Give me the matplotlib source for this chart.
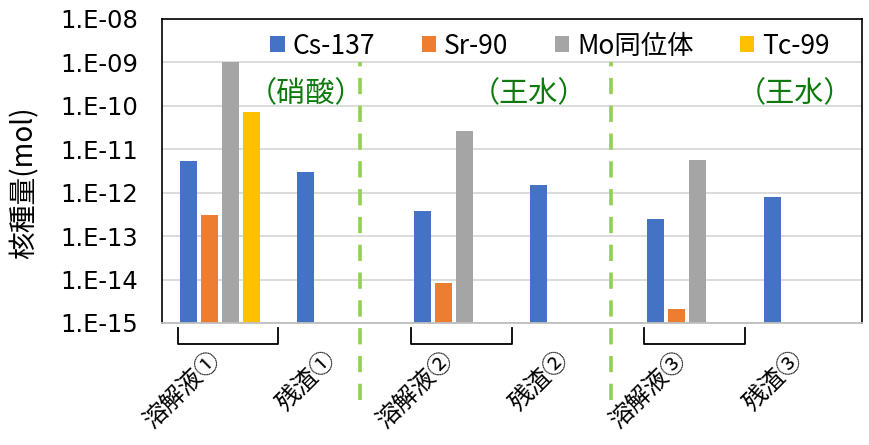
import numpy as np
import matplotlib
matplotlib.use("Agg")
import matplotlib.pyplot as plt
from matplotlib.patches import Patch
from matplotlib.ticker import FixedLocator, FuncFormatter, NullLocator
import matplotlib.transforms as mtransforms

plt.rcParams['font.family'] = ['Noto Sans CJK JP', 'DejaVu Sans']

categories = ["溶解液①", "残渣①", "溶解液②", "残渣②", "溶解液③", "残渣③"]
series_names = ["Cs-137", "Sr-90", "Mo同位体", "Tc-99"]
cs137 = [5.3e-12, 2.9e-12, 3.8e-13, 1.45e-12, 2.5e-13, 7.8e-13]
sr90 = [3.1e-13, np.nan, 8.4e-15, np.nan, 2.1e-15, np.nan]
mo_iso = [1.0e-9, np.nan, 2.6e-11, np.nan, 5.7e-12, np.nan]
tc99 = [7.2e-11, np.nan, np.nan, np.nan, np.nan, np.nan]
acid_labels = ["（硝酸）", "（王水）", "（王水）"]

colors = ["#4472C4", "#ED7D31", "#A5A5A5", "#FFC000"]
green_text = "#0E7A0E"
green_line = "#92D050"

fig = plt.figure(figsize=(8.7, 4.45), dpi=100)
ax = fig.add_axes([162 / 870, 1 - 323 / 445, 700 / 870, 304.5 / 445])
ax.set_yscale("log")

x = np.arange(len(categories))
step = 0.18
width = 0.146
all_series = [cs137, sr90, mo_iso, tc99]
for i, (vals, c) in enumerate(zip(all_series, colors)):
    ax.bar(x + (i - 1.5) * step, vals, width=width, color=c, zorder=3)

ax.set_xlim(-0.5, len(categories) - 0.5)
ax.set_ylim(1e-15, 1e-8)

# y axis: decades labelled in 1.E-xx form
decades = [10.0 ** e for e in range(-15, -7)]
ax.yaxis.set_major_locator(FixedLocator(decades))
ax.yaxis.set_minor_locator(NullLocator())
ax.yaxis.set_major_formatter(FuncFormatter(
    lambda v, p: "1.E-%02d" % int(round(-np.log10(v)))))
ax.tick_params(axis="y", length=0, pad=17, labelsize=17.5, labelcolor="#000000")
for lab in ax.get_yticklabels():
    lab.set_fontfamily(["DejaVu Sans"])
ax.grid(axis="y", color="#D9D9D9", linewidth=1.3, zorder=0)

# category names, slanted, ending just right of each category centre
ax.set_xticks(x)
ax.set_xticklabels([])
ax.tick_params(axis="x", length=0)
trans = mtransforms.blended_transform_factory(ax.transData, ax.transAxes)
for xi, name in zip(x, categories):
    ax.text(xi + 0.04, -0.078, name, transform=trans, rotation=45,
            ha="right", va="top", fontsize=17.5)

for side in ["left", "top", "right"]:
    ax.spines[side].set_color("#000000")
    ax.spines[side].set_linewidth(1.2)
ax.spines["bottom"].set_color("#BFBFBF")
ax.spines["bottom"].set_linewidth(1.3)
ax.spines["bottom"].set_zorder(4)

fig.text(25 / 870, 1 - 183 / 445, "核種量(mol)", rotation=90,
         ha="center", va="center", fontsize=20)

# legend across the top
handles = [Patch(facecolor=c, edgecolor="none") for c in colors]
fig.legend(handles, series_names, loc="center", ncol=4, frameon=False,
           bbox_to_anchor=(550 / 870, 1 - 46 / 445), fontsize=19,
           handlelength=0.55, handleheight=0.55, handletextpad=0.3,
           columnspacing=1.75, borderpad=0, borderaxespad=0)

# acid used for each dissolution
for xpos, txt in zip([0.734, 2.646, 4.926], acid_labels):
    ax.text(xpos, 0.752, txt, transform=trans, ha="center", va="center",
            fontsize=21, color=green_text, zorder=5)

# dashed separators between dissolution steps
for xpos in [1.197, 3.345]:
    ax.plot([xpos, xpos], [-0.253, 0.857], transform=trans, color=green_line,
            linewidth=2.6, linestyle=(0, (4.5, 3.2)), clip_on=False, zorder=5)

# brackets under each dissolution group
for k in range(3):
    x0 = -0.365 + 2 * k
    x1 = 0.497 + 2 * k
    ax.plot([x0, x0, x1, x1], [-0.016, -0.069, -0.069, -0.016], transform=trans,
            color="#000000", linewidth=1.3, clip_on=False, zorder=5)

fig.savefig("out.png", dpi=100)
